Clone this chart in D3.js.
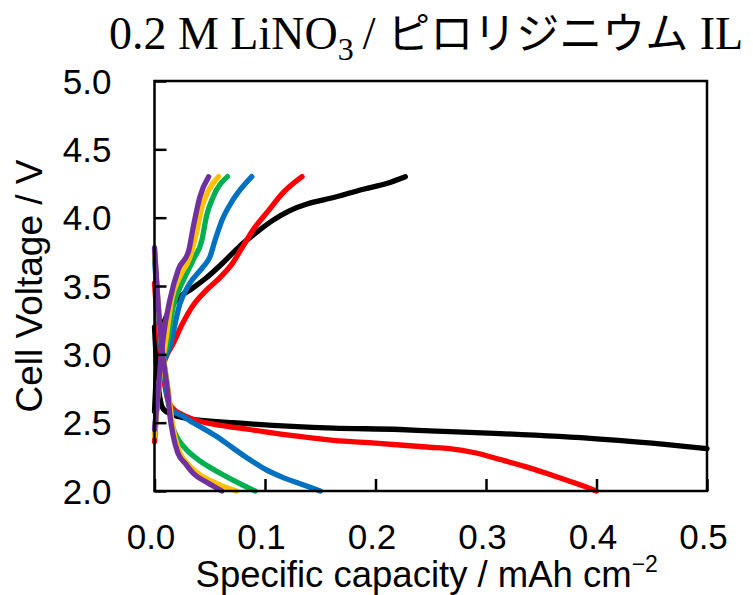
<!DOCTYPE html>
<html>
<head>
<meta charset="utf-8">
<script src="https://cdn.jsdelivr.net/npm/d3@7"></script>
<style>
  html, body { margin: 0; padding: 0; background: #fff; }
  svg { display: block; }
</style>
</head>
<body>
<svg id="chart" width="753" height="595"></svg>
<script>
// ---- Data (x: specific capacity / mAh cm^-2, y: cell voltage / V) ----
const xTicks = [0.0, 0.1, 0.2, 0.3, 0.4, 0.5];
const yTicks = [2.0, 2.5, 3.0, 3.5, 4.0, 4.5, 5.0];

const seriesNames  = ["black", "red", "blue", "green", "orange", "purple"];
const seriesColors = ["#000000", "#FF0000", "#0070C0", "#00B050", "#FFC000", "#7030A0"];

const blackCharge = [[0,2.58],[0.002,2.9],[0.006,3.15],[0.012,3.30],[0.020,3.40],[0.032,3.47],[0.047,3.56],[0.062,3.67],[0.077,3.79],[0.092,3.89],[0.107,3.98],[0.122,4.05],[0.138,4.10],[0.153,4.13],[0.168,4.16],[0.19,4.21],[0.21,4.25],[0.227,4.30]];
const blackDischarge = [[0,3.2],[0.003,2.8],[0.008,2.6],[0.016,2.56],[0.03,2.53],[0.071,2.50],[0.162,2.46],[0.222,2.45],[0.249,2.44],[0.313,2.42],[0.403,2.38],[0.464,2.34],[0.50,2.31]];

const redCharge = [[0,2.36],[0.002,2.6],[0.004,2.78],[0.0095,2.96],[0.017,3.08],[0.025,3.22],[0.035,3.36],[0.047,3.47],[0.059,3.56],[0.070,3.66],[0.080,3.79],[0.090,3.92],[0.102,4.04],[0.116,4.18],[0.1335,4.30]];
const redDischarge = [[0,3.52],[0.003,3.2],[0.007,2.9],[0.011,2.70],[0.016,2.61],[0.025,2.56],[0.041,2.51],[0.060,2.48],[0.086,2.45],[0.12,2.41],[0.162,2.37],[0.20,2.35],[0.249,2.32],[0.267,2.31],[0.29,2.28],[0.313,2.23],[0.335,2.18],[0.358,2.12],[0.38,2.06],[0.40,2.0]];

const blueCharge = [[0,2.40],[0.003,2.7],[0.007,2.9],[0.014,3.06],[0.023,3.37],[0.032,3.52],[0.044,3.64],[0.050,3.71],[0.055,3.84],[0.061,3.98],[0.071,4.13],[0.088,4.30]];
const blueDischarge = [[0,3.70],[0.003,3.35],[0.006,3.05],[0.010,2.78],[0.013,2.63],[0.016,2.59],[0.025,2.55],[0.035,2.50],[0.056,2.40],[0.07,2.32],[0.086,2.23],[0.100,2.16],[0.116,2.10],[0.133,2.05],[0.150,2.0]];

const greenCharge = [[0,2.42],[0.003,2.7],[0.006,2.9],[0.011,3.06],[0.017,3.35],[0.026,3.54],[0.035,3.69],[0.043,3.84],[0.047,4.01],[0.053,4.15],[0.066,4.30]];
const greenDischarge = [[0,3.75],[0.003,3.4],[0.006,3.1],[0.009,2.92],[0.013,2.68],[0.015,2.52],[0.020,2.40],[0.027,2.32],[0.041,2.22],[0.055,2.15],[0.071,2.08],[0.091,2.0]];

const orangeCharge = [[0,2.40],[0.003,2.7],[0.006,2.9],[0.0095,3.06],[0.0155,3.40],[0.023,3.57],[0.032,3.71],[0.038,3.89],[0.043,4.08],[0.049,4.20],[0.058,4.30]];
const orangeDischarge = [[0,3.77],[0.003,3.4],[0.006,3.1],[0.009,2.92],[0.013,2.7],[0.016,2.50],[0.019,2.38],[0.023,2.28],[0.030,2.20],[0.041,2.12],[0.055,2.06],[0.074,2.0]];

const purpleCharge = [[0,2.45],[0.003,2.7],[0.005,2.9],[0.008,3.13],[0.014,3.40],[0.0215,3.62],[0.031,3.76],[0.035,3.93],[0.041,4.15],[0.049,4.30]];
const purpleDischarge = [[0,3.78],[0.003,3.4],[0.006,3.1],[0.008,2.96],[0.012,2.72],[0.014,2.55],[0.017,2.40],[0.021,2.28],[0.028,2.20],[0.035,2.13],[0.048,2.06],[0.061,2.0]];

const chargeCurves    = [blackCharge, redCharge, blueCharge, greenCharge, orangeCharge, purpleCharge];
const dischargeCurves = [blackDischarge, redDischarge, blueDischarge, greenDischarge, orangeDischarge, purpleDischarge];

// ---- Layout ----
const plot = { left: 154.5, right: 707, top: 81, bottom: 491 };

const svg = d3.select("#chart");
const x = d3.scaleLinear().domain([0, 0.5]).range([plot.left, plot.right]);
const y = d3.scaleLinear().domain([2.0, 5.0]).range([plot.bottom, plot.top]);

const sans = "'Liberation Sans', Arial, sans-serif";
const serif = "'Liberation Serif', 'Times New Roman', serif";
const cjk = "'Noto Sans CJK JP', sans-serif";

// Curves
const line = d3.line().x(d => x(d[0])).y(d => y(d[1])).curve(d3.curveMonotoneX);
const g = svg.append("g");
seriesNames.forEach((name, i) => {
  [chargeCurves[i], dischargeCurves[i]].forEach(data => {
    g.append("path")
      .attr("d", line(data))
      .attr("fill", "none")
      .attr("stroke", seriesColors[i])
      .attr("stroke-width", 5.3)
      .attr("stroke-linecap", "round")
      .attr("stroke-linejoin", "round");
  });
});

// Axes (ticks inside)
const yAxis = d3.axisLeft(y).tickValues(yTicks).tickFormat(d3.format(".1f"))
  .tickSizeInner(-12).tickSizeOuter(0).tickPadding(0);
const yg = svg.append("g").attr("transform", `translate(${plot.left},0)`).call(yAxis);
yg.select(".domain").remove();
yg.selectAll(".tick line").attr("stroke", "#000").attr("stroke-width", 2.5);
yg.selectAll(".tick text")
  .attr("x", -43).attr("dy", "0.35em")
  .attr("text-anchor", "end")
  .style("font-family", sans).style("font-size", "35px").attr("fill", "#000");

const xAxis = d3.axisBottom(x).tickValues(xTicks).tickFormat(d3.format(".1f"))
  .tickSizeInner(-12).tickSizeOuter(0);
const xg = svg.append("g").attr("transform", `translate(0,${plot.bottom})`).call(xAxis);
xg.select(".domain").remove();
xg.selectAll(".tick line").attr("stroke", "#000").attr("stroke-width", 2.5);
xg.selectAll(".tick text")
  .attr("y", 58).attr("dy", 0).attr("dx", -4)
  .style("font-family", sans).style("font-size", "35px").attr("fill", "#000");

// Frame
svg.append("rect")
  .attr("x", plot.left).attr("y", plot.top)
  .attr("width", plot.right - plot.left).attr("height", plot.bottom - plot.top)
  .attr("fill", "none").attr("stroke", "#000").attr("stroke-width", 2.5);

// Axis titles
const xt = svg.append("text")
  .attr("x", (plot.left + plot.right) / 2 - 4).attr("y", 587)
  .attr("text-anchor", "middle")
  .style("font-family", sans).style("font-size", "36.5px").attr("fill", "#000");
xt.append("tspan").text("Specific capacity / mAh cm");
xt.append("tspan").text("\u22122").attr("dy", -15).style("font-size", "23px");

svg.append("text")
  .attr("transform", `translate(42,${(plot.top + plot.bottom) / 2}) rotate(-90)`)
  .attr("text-anchor", "middle")
  .style("font-family", sans).style("font-size", "37px").attr("fill", "#000")
  .text("Cell Voltage / V");

// Chart title
const tt = svg.append("text")
  .attr("x", 426).attr("y", 49)
  .attr("text-anchor", "middle")
  .style("font-family", serif).style("font-size", "46px").attr("fill", "#000");
tt.append("tspan").text("0.2 M LiNO");
tt.append("tspan").text("3").attr("dy", 11).style("font-size", "32px");
tt.append("tspan").text("\u2009/ ").attr("dy", -11);
tt.append("tspan").text("ピロリジニウム").style("font-family", cjk).style("font-size", "43px");
tt.append("tspan").text(" IL");
</script>
</body>
</html>
